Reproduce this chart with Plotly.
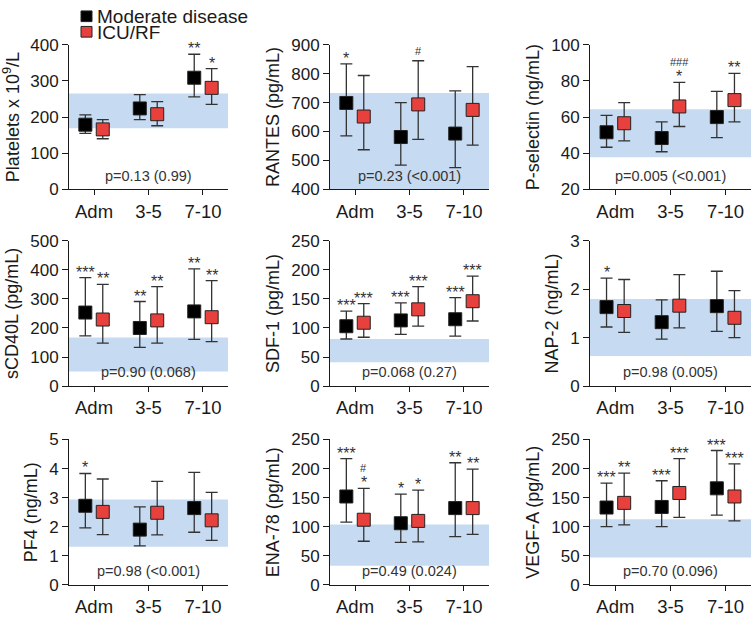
import plotly.graph_objects as go

categories = ["Adm", "3-5", "7-10"]
group_names = ["Moderate disease", "ICU/RF"]
group_colors = ["#000000", "#e8403c"]

# ---- Platelets ----
plt_mod = [179, 224, 309]
plt_mod_hi = [206, 262, 374]
plt_mod_lo = [155, 193, 256]
plt_icu = [166, 208, 281]
plt_icu_hi = [193, 243, 334]
plt_icu_lo = [140, 176, 235]
plt_ref = [169, 265]
plt_p = "p=0.13 (0.99)"
plt_sig_mod = ["", "", "**"]
plt_sig_icu = ["", "", "*"]
plt_hash_icu = ["", "", ""]

# ---- RANTES ----
ran_mod = [699, 581, 593]
ran_mod_hi = [834, 700, 741]
ran_mod_lo = [585, 484, 475]
ran_icu = [652, 694, 675]
ran_icu_hi = [794, 845, 825]
ran_icu_lo = [537, 573, 553]
ran_ref = [400, 733]
ran_p = "p=0.23 (<0.001)"
ran_sig_mod = ["*", "", ""]
ran_sig_icu = ["", "", ""]
ran_hash_icu = ["", "#", ""]

# ---- P-selectin ----
psel_mod = [51.6, 48.4, 60.0]
psel_mod_hi = [60.9, 57.3, 74.2]
psel_mod_lo = [43.3, 40.8, 48.6]
psel_icu = [56.6, 65.9, 69.4]
psel_icu_hi = [68.0, 79.2, 84.2]
psel_icu_lo = [46.8, 54.8, 57.3]
psel_ref = [37.8, 64.4]
psel_p = "p=0.005 (<0.001)"
psel_sig_mod = ["", "", ""]
psel_sig_icu = ["", "*", "**"]
psel_hash_icu = ["", "###", ""]

# ---- sCD40L ----
cd40_mod = [253, 200, 257]
cd40_mod_hi = [373, 291, 403]
cd40_mod_lo = [173, 133, 161]
cd40_icu = [229, 226, 237]
cd40_icu_hi = [350, 342, 363]
cd40_icu_lo = [148, 148, 153]
cd40_ref = [50, 167]
cd40_p = "p=0.90 (0.068)"
cd40_sig_mod = ["***", "**", "**"]
cd40_sig_icu = ["**", "**", "**"]
cd40_hash_icu = ["", "", ""]

# ---- SDF-1 ----
sdf_mod = [103, 113, 115]
sdf_mod_hi = [129, 143, 152]
sdf_mod_lo = [81, 89, 86]
sdf_icu = [109, 132, 146]
sdf_icu_hi = [142, 171, 189]
sdf_icu_lo = [84, 103, 112]
sdf_ref = [41, 81]
sdf_p = "p=0.068 (0.27)"
sdf_sig_mod = ["***", "***", "***"]
sdf_sig_icu = ["***", "***", "***"]
sdf_hash_icu = ["", "", ""]

# ---- NAP-2 ----
nap_mod = [1.63, 1.32, 1.65]
nap_mod_hi = [2.23, 1.78, 2.37]
nap_mod_lo = [1.22, 0.97, 1.13]
nap_icu = [1.55, 1.66, 1.41]
nap_icu_hi = [2.20, 2.30, 1.97]
nap_icu_lo = [1.11, 1.20, 1.00]
nap_ref = [0.62, 1.80]
nap_p = "p=0.98 (0.005)"
nap_sig_mod = ["*", "", ""]
nap_sig_icu = ["", "", ""]
nap_hash_icu = ["", "", ""]

# ---- PF4 ----
pf4_mod = [2.72, 1.90, 2.64]
pf4_mod_hi = [3.83, 2.68, 3.87]
pf4_mod_lo = [1.96, 1.34, 1.81]
pf4_icu = [2.51, 2.48, 2.22]
pf4_icu_hi = [3.64, 3.56, 3.18]
pf4_icu_lo = [1.73, 1.72, 1.53]
pf4_ref = [1.31, 2.94]
pf4_p = "p=0.98 (<0.001)"
pf4_sig_mod = ["*", "", ""]
pf4_sig_icu = ["", "", ""]
pf4_hash_icu = ["", "", ""]

# ---- ENA-78 ----
ena_mod = [152, 106, 132]
ena_mod_hi = [217, 156, 210]
ena_mod_lo = [108, 73, 83]
ena_icu = [112, 110, 132]
ena_icu_hi = [166, 163, 199]
ena_icu_lo = [75, 74, 87]
ena_ref = [33, 104]
ena_p = "p=0.49 (0.024)"
ena_sig_mod = ["***", "*", "**"]
ena_sig_icu = ["*", "*", "**"]
ena_hash_icu = ["#", "", ""]

# ---- VEGF-A ----
vegf_mod = [133, 134, 166]
vegf_mod_hi = [175, 179, 231]
vegf_mod_lo = [100, 100, 120]
vegf_icu = [141, 158, 152]
vegf_icu_hi = [192, 217, 208]
vegf_icu_lo = [103, 116, 110]
vegf_ref = [47, 113]
vegf_p = "p=0.70 (0.096)"
vegf_sig_mod = ["***", "***", "***"]
vegf_sig_icu = ["**", "***", "***"]
vegf_hash_icu = ["", "", ""]

titles = ["Platelets x 10<sup>9</sup>/L", "RANTES (pg/mL)", "P-selectin (ng/mL)",
          "sCD40L (pg/mL)", "SDF-1 (pg/mL)", "NAP-2 (ng/mL)",
          "PF4 (ng/mL)", "ENA-78 (pg/mL)", "VEGF-A (pg/mL)"]
y_ranges = [[0, 400], [400, 900], [20, 100], [0, 500], [0, 250], [0, 3], [0, 5], [0, 250], [0, 250]]
y_dticks = [100, 100, 20, 100, 50, 1, 1, 50, 50]

panels = [
    (plt_mod, plt_mod_hi, plt_mod_lo, plt_icu, plt_icu_hi, plt_icu_lo, plt_ref, plt_p, plt_sig_mod, plt_sig_icu, plt_hash_icu),
    (ran_mod, ran_mod_hi, ran_mod_lo, ran_icu, ran_icu_hi, ran_icu_lo, ran_ref, ran_p, ran_sig_mod, ran_sig_icu, ran_hash_icu),
    (psel_mod, psel_mod_hi, psel_mod_lo, psel_icu, psel_icu_hi, psel_icu_lo, psel_ref, psel_p, psel_sig_mod, psel_sig_icu, psel_hash_icu),
    (cd40_mod, cd40_mod_hi, cd40_mod_lo, cd40_icu, cd40_icu_hi, cd40_icu_lo, cd40_ref, cd40_p, cd40_sig_mod, cd40_sig_icu, cd40_hash_icu),
    (sdf_mod, sdf_mod_hi, sdf_mod_lo, sdf_icu, sdf_icu_hi, sdf_icu_lo, sdf_ref, sdf_p, sdf_sig_mod, sdf_sig_icu, sdf_hash_icu),
    (nap_mod, nap_mod_hi, nap_mod_lo, nap_icu, nap_icu_hi, nap_icu_lo, nap_ref, nap_p, nap_sig_mod, nap_sig_icu, nap_hash_icu),
    (pf4_mod, pf4_mod_hi, pf4_mod_lo, pf4_icu, pf4_icu_hi, pf4_icu_lo, pf4_ref, pf4_p, pf4_sig_mod, pf4_sig_icu, pf4_hash_icu),
    (ena_mod, ena_mod_hi, ena_mod_lo, ena_icu, ena_icu_hi, ena_icu_lo, ena_ref, ena_p, ena_sig_mod, ena_sig_icu, ena_hash_icu),
    (vegf_mod, vegf_mod_hi, vegf_mod_lo, vegf_icu, vegf_icu_hi, vegf_icu_lo, vegf_ref, vegf_p, vegf_sig_mod, vegf_sig_icu, vegf_hash_icu),
]

W, H = 752, 623
FONT = "Liberation Sans, Arial, Helvetica, sans-serif"
INK = "#1a1a1a"
BAND = "#c6dbf2"
col_px = [(69, 228), (330, 489), (590, 751)]
row_px = [(37, 186), (239, 389), (444, 594)]
OFFS = [-0.16, 0.16]

fig = go.Figure()
layout = dict(width=W, height=H, margin=dict(l=0, r=0, t=0, b=0),
              paper_bgcolor="white", plot_bgcolor="white", showlegend=False,
              font=dict(family=FONT, color=INK))
shapes = []
annotations = []

for k, pan in enumerate(panels):
    mod, mod_hi, mod_lo, icu, icu_hi, icu_lo, ref, ptxt, sig_mod, sig_icu, hash_icu = pan
    r, c = divmod(k, 3)
    n = k + 1
    sfx = "" if n == 1 else str(n)
    xa, ya = "x" + sfx, "y" + sfx
    xs = list(range(len(categories)))
    groups = [(mod, mod_hi, mod_lo, sig_mod, ["", "", ""]), (icu, icu_hi, icu_lo, sig_icu, hash_icu)]
    for g, (vals, hi, lo, sig, hsh) in enumerate(groups):
        gx = [i + OFFS[g] for i in xs]
        fig.add_trace(go.Scatter(
            x=gx, y=vals, mode="markers", name=group_names[g], xaxis=xa, yaxis=ya,
            marker=dict(symbol="square", size=13, color=group_colors[g],
                        line=dict(color="#222222", width=1)),
            error_y=dict(type="data", symmetric=False,
                         array=[h - v for h, v in zip(hi, vals)],
                         arrayminus=[v - l for v, l in zip(vals, lo)],
                         color="#333333", thickness=1.3, width=6),
            hoverinfo="skip"))
        for i in xs:
            if sig[i]:
                annotations.append(dict(x=gx[i], y=hi[i], xref=xa, yref=ya, text=sig[i],
                                        showarrow=False, yanchor="bottom", yshift=-5,
                                        font=dict(size=16, color="#333333")))
            if hsh[i]:
                annotations.append(dict(x=gx[i], y=hi[i], xref=xa, yref=ya, text=hsh[i],
                                        showarrow=False, yanchor="bottom",
                                        yshift=12 if sig[i] else 2,
                                        font=dict(size=11, color="#333333")))
    # reference band
    shapes.append(dict(type="rect", xref=xa + " domain", yref=ya, x0=0, x1=1,
                       y0=ref[0], y1=ref[1], fillcolor=BAND, line=dict(width=0),
                       layer="below"))
    # p-value text
    annotations.append(dict(x=1, y=0.095, xref=xa, yref=ya + " domain", text=ptxt,
                            showarrow=False, yanchor="middle",
                            font=dict(size=14.5, color="#333333")))
    x0, x1 = col_px[c]
    y0, y1 = row_px[r]
    layout["xaxis" + sfx] = dict(
        domain=[x0 / W, x1 / W], anchor=ya, range=[-0.46, 2.46],
        tickvals=xs, ticktext=categories, ticks="outside", ticklen=5,
        showline=True, linecolor=INK, tickcolor=INK, linewidth=1,
        showgrid=False, zeroline=False, tickfont=dict(size=18.5, color=INK))
    layout["yaxis" + sfx] = dict(
        domain=[1 - y1 / H, 1 - y0 / H], anchor=xa, range=y_ranges[k],
        dtick=y_dticks[k], tick0=0, ticks="outside", ticklen=6,
        showline=True, linecolor=INK, tickcolor=INK, linewidth=1,
        showgrid=False, zeroline=False, tickfont=dict(size=17, color=INK),
        title=dict(text=titles[k], font=dict(size=18, color=INK), standoff=6))

# legend (upper-left, above first panel)
leg_rows = [(2, 13), (18, 29)]
for g in range(2):
    t, b = leg_rows[g]
    shapes.append(dict(type="rect", xref="paper", yref="paper",
                       x0=81 / W, x1=92 / W, y0=1 - b / H, y1=1 - t / H,
                       fillcolor=group_colors[g], line=dict(color="#222222", width=1)))
    annotations.append(dict(x=96 / W, y=1 - (t + b) / 2 / H, xref="paper", yref="paper",
                            text=group_names[g], showarrow=False, xanchor="left",
                            yanchor="middle", height=16, valign="middle", borderpad=0,
                            font=dict(size=19, color=INK)))

layout["shapes"] = shapes
layout["annotations"] = annotations
fig.update_layout(**layout)
fig.write_html("out.html")
